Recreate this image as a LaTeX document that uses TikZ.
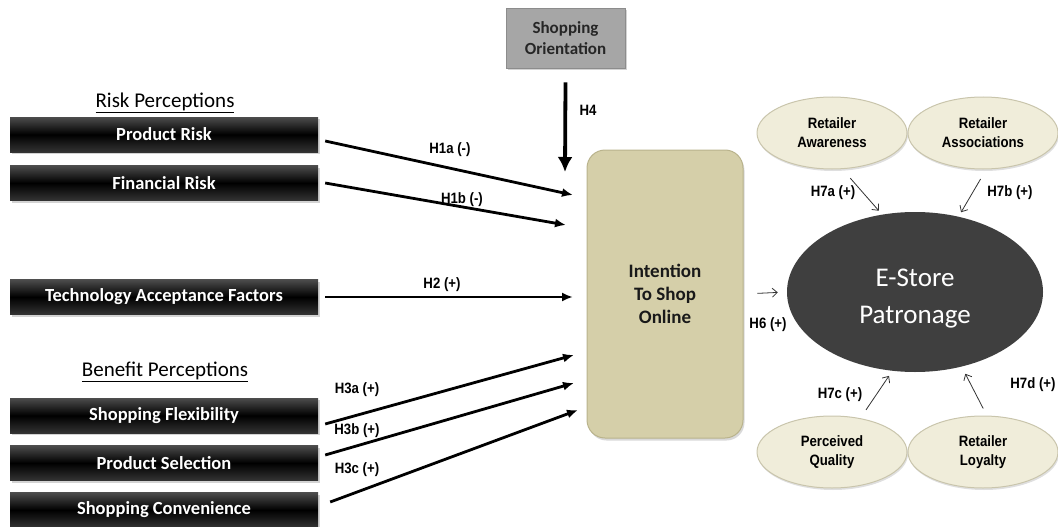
\documentclass[tikz,border=0pt]{standalone}
\usepackage{fontspec}
\setmainfont{Carlito}
\newfontfamily\cond{Liberation Sans}[FakeStretch=0.88]
\usetikzlibrary{arrows.meta,shadows,shapes.geometric}
\definecolor{tanbox}{HTML}{D5CFA9}
\definecolor{tanedge}{HTML}{B9B38C}
\definecolor{ellfill}{HTML}{F0EDDA}
\definecolor{elledge}{HTML}{C9C5AC}
\definecolor{graybox}{HTML}{A6A6A6}
\definecolor{darkell}{HTML}{3F3F3F}
\begin{document}
\begin{tikzpicture}[x=1pt,y=-1pt,
  blk/.style={rectangle, top color=black!70, bottom color=black!80, middle color=black, shading angle=0,
    minimum width=308pt, minimum height=35pt, inner sep=0pt, text=white,
    font=\bfseries\fontsize{18.5}{20}\selectfont,
    drop shadow={opacity=0.35, shadow xshift=1.5pt, shadow yshift=-2pt}},
  grp/.style={font=\fontsize{21}{24}\selectfont},
  lbl/.style={font=\cond\bfseries\fontsize{15}{17}\selectfont, inner sep=1pt},
  bigarrow/.style={line width=2.8pt, -{Latex[length=11pt,width=9pt]}},
  thinarrow/.style={line width=0.8pt, black!80, -{Straight Barb[length=5pt,width=9pt]}},
  smallell/.style={ellipse, fill=ellfill, draw=elledge, line width=1pt,
    minimum width=150pt, minimum height=72pt, inner sep=0pt, align=center,
    font=\cond\bfseries\fontsize{15}{19}\selectfont,
    drop shadow={opacity=0.25, shadow xshift=1pt, shadow yshift=-2pt}}
]
\useasboundingbox (0,0) rectangle (1058,527);

% group titles
\node[grp] (rt) at (165,103) {\underline{Risk Perceptions}};
\node[grp] (bt) at (165,372) {\underline{Benefit Perceptions}};

% black boxes
\node[blk] (pr) at (164,134.5) {Product Risk};
\node[blk] (fr) at (164,183) {Financial Risk};
\node[blk] (ta) at (164,297) {Technology Acceptance Factors};
\node[blk] (sf) at (164,415.5) {Shopping Flexibility};
\node[blk] (ps) at (164,463) {Product Selection};
\node[blk] (sc) at (164,510) {Shopping Convenience};

% shopping orientation
\node[rectangle, fill=graybox, draw=black!45, line width=0.6pt, minimum width=119pt, minimum height=60pt,
  align=center, inner sep=0pt, text=black!85, font=\bfseries\fontsize{17}{21}\selectfont,
  drop shadow={opacity=0.35, shadow xshift=1.5pt, shadow yshift=-2pt}]
  (so) at (565.5,38) {Shopping\\Orientation};

% intention
\node[rectangle, rounded corners=18pt, fill=tanbox, draw=tanedge, line width=1pt,
  minimum width=156pt, minimum height=288pt, align=center, inner sep=0pt,
  font=\bfseries\fontsize{19}{23}\selectfont, text=black!90,
  drop shadow={opacity=0.3, shadow xshift=1.5pt, shadow yshift=-2.5pt}]
  (int) at (665,294) {Intention\\To Shop\\Online};

% e-store
\node[ellipse, fill=darkell, minimum width=256pt, minimum height=160pt, inner sep=0pt,
  align=center, text=white, font=\fontsize{27}{37}\selectfont]
  (es) at (915,292) {\rule{0pt}{30pt}E-Store\\Patronage};

% small ellipses
\node[smallell] (ra) at (832,133) {Retailer\\Awareness};
\node[smallell] (ras) at (983,133) {Retailer\\Associations};
\node[smallell] (pq) at (832,452) {Perceived\\Quality};
\node[smallell] (rl) at (983,452) {Retailer\\Loyalty};

% arrow end coordinates on the left of the intention box
\coordinate (e1) at (573,195);
\coordinate (e2) at (566,225);
\coordinate (e3) at (573,297);
\coordinate (e4) at (574,355);
\coordinate (e5) at (574,383);
\coordinate (e6) at (578,410);
\coordinate (h4e) at (565,172);

% main arrows
\draw[bigarrow] ([xshift=7pt,yshift=-6.5pt]pr.east) -- (e1);
\draw[bigarrow] ([xshift=7pt]fr.east) -- (e2);
\draw[bigarrow] ([xshift=7pt]ta.east) -- (e3);
\draw[bigarrow] ([xshift=7pt,yshift=-8.5pt]sf.east) -- (e4);
\draw[bigarrow] ([xshift=7pt,yshift=8pt]ps.east) -- (e5);
\draw[bigarrow] ([xshift=12pt,yshift=8pt]sc.east) -- (e6);
\draw[line width=3.8pt, -{Latex[length=15pt,width=15pt]}] ([yshift=-14pt]so.south) -- (h4e);

% thin arrows
\draw[thinarrow, shorten <=14pt, shorten >=9pt] (int.east) -- (es.west);
\draw[thinarrow, shorten <=12pt, shorten >=5pt] (ra.-74) -- (es.113);
\draw[thinarrow, shorten <=11pt, shorten >=5pt] (ras.-85) -- (es.60);
\draw[thinarrow, shorten <=10pt, shorten >=6pt] (pq.50) -- (es.-106);
\draw[thinarrow, shorten <=8pt, shorten >=8pt] (rl.84) -- (es.-58);

% labels
\node[lbl] (l1a) at (450,150) {H1a (-)};
\node[lbl] (l1b) at (462,200) {H1b (-)};
\node[lbl] (l2) at (442,285) {H2 (+)};
\node[lbl] (l3a) at (357,390) {H3a (+)};
\node[lbl] (l3b) at (357,431) {H3b (+)};
\node[lbl] (l3c) at (357,470) {H3c (+)};
\node[lbl] (l4) at (588,110) {H4};
\node[lbl] (l6) at (768,325) {H6 (+)};
\node[lbl] (l7a) at (833,193) {H7a (+)};
\node[lbl] (l7b) at (1010,193) {H7b (+)};
\node[lbl] (l7c) at (840,395) {H7c (+)};
\node[lbl] (l7d) at (1033,385) {H7d (+)};
\end{tikzpicture}
\end{document}
